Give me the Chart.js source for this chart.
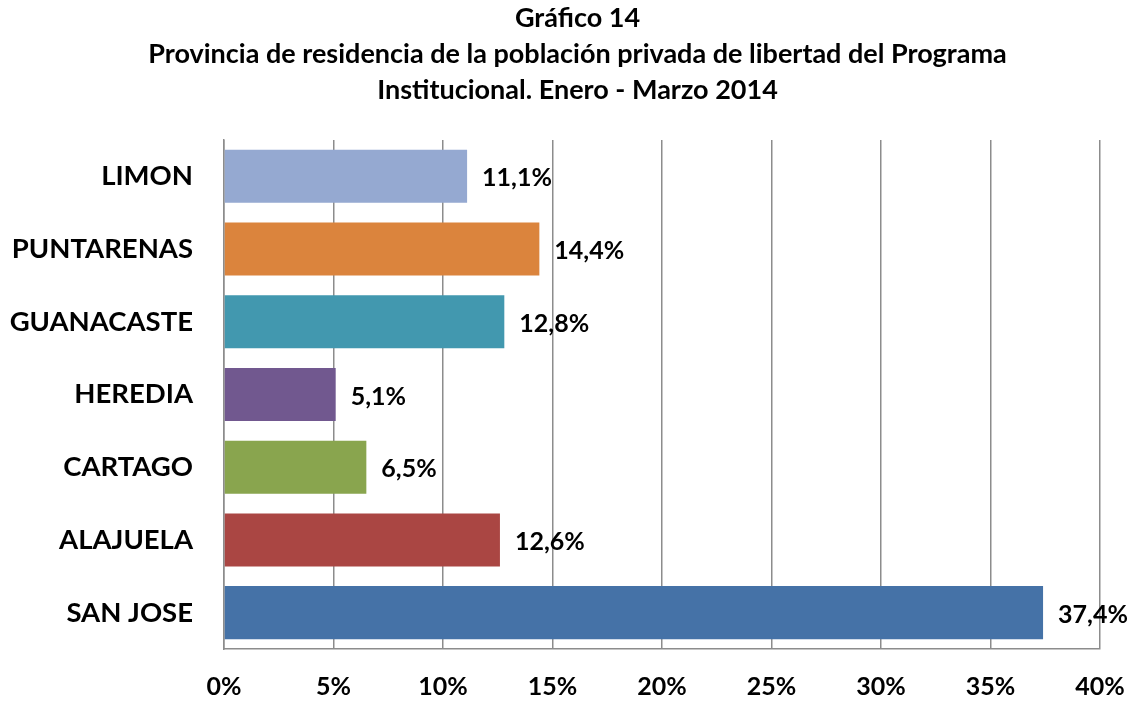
<!DOCTYPE html>
<html>
<head>
<meta charset="utf-8">
<script src="https://cdn.jsdelivr.net/npm/chart.js@4"></script>
<style>
  html, body { margin: 0; padding: 0; background: #fff; }
  #wrap { width: 1139px; height: 703px; }
</style>
</head>
<body>
<div id="wrap"><canvas id="chart"></canvas></div>
<script>
  // Data.
  const provincias = ['LIMON', 'PUNTARENAS', 'GUANACASTE', 'HEREDIA', 'CARTAGO', 'ALAJUELA', 'SAN JOSE'];
  const porcentajes = [11.1, 14.4, 12.8, 5.1, 6.5, 12.6, 37.4];
  const colores = ['#95A9D1', '#DB843D', '#4298AF', '#71588F', '#89A54E', '#AA4643', '#4572A7'];
  const ticksX = [0, 5, 10, 15, 20, 25, 30, 35, 40];
  const titulo = [
    'Gráfico 14',
    'Provincia de residencia de la población privada de libertad del Programa',
    'Institucional. Enero - Marzo 2014'
  ];

  const fuente = 'Lato, "Open Sans", sans-serif';
  const gris = '#8c8c8c';

  // Value labels at bar end.
  const etiquetas = {
    id: 'etiquetas',
    afterLayout: function (chart) {
      // Title is centred a bit right of the canvas middle.
      chart.titleBlock.left = 55;
    },
    afterDatasetsDraw: function (chart) {
      const ctx = chart.ctx;
      const meta = chart.getDatasetMeta(0);
      ctx.save();
      ctx.font = 'bold 25px ' + fuente;
      ctx.fillStyle = '#000';
      ctx.textAlign = 'left';
      ctx.textBaseline = 'middle';
      meta.data.forEach(function (bar, i) {
        const txt = porcentajes[i].toFixed(1).replace('.', ',') + '%';
        ctx.fillText(txt, bar.x + 15, bar.y + 2);
      });
      ctx.restore();
    }
  };

  new Chart(document.getElementById('chart'), {
    type: 'bar',
    data: {
      labels: provincias,
      datasets: [{
        data: porcentajes,
        backgroundColor: colores,
        borderWidth: 0,
        categoryPercentage: 1,
        barPercentage: 0.73
      }]
    },
    options: {
      indexAxis: 'y',
      responsive: true,
      maintainAspectRatio: false,
      animation: false,
      layout: { padding: { left: 0, right: 39, top: 0, bottom: 2 } },
      plugins: {
        legend: { display: false },
        tooltip: { enabled: false },
        title: {
          display: true,
          text: titulo,
          color: '#000',
          font: { family: fuente, size: 27, weight: 'bold', lineHeight: 1.333 },
          padding: { top: 0, bottom: 32 }
        }
      },
      scales: {
        x: {
          min: 0,
          max: 40,
          afterBuildTicks: function (scale) {
            scale.ticks = ticksX.map(function (v) { return { value: v }; });
          },
          afterFit: function (scale) {
            scale.height = 52;
            scale.paddingLeft = 0;
            scale.paddingRight = 0;
          },
          grid: { color: gris, lineWidth: 1.5, drawTicks: false },
          border: { color: gris, width: 1.5 },
          ticks: {
            color: '#000',
            padding: 23,
            maxRotation: 0,
            font: { family: fuente, size: 25, weight: 'bold' },
            callback: function (v) { return v + '%'; }
          }
        },
        y: {
          afterFit: function (scale) {
            // plot starts at x = 224
            scale.width = 224;
            scale.paddingTop = 0;
            scale.paddingBottom = 0;
          },
          grid: { display: false, drawTicks: false },
          border: { color: gris, width: 1.5 },
          ticks: {
            color: '#000',
            padding: 31,
            font: { family: fuente, size: 27.5, weight: 'bold' }
          }
        }
      }
    },
    plugins: [etiquetas]
  });
</script>
</body>
</html>
